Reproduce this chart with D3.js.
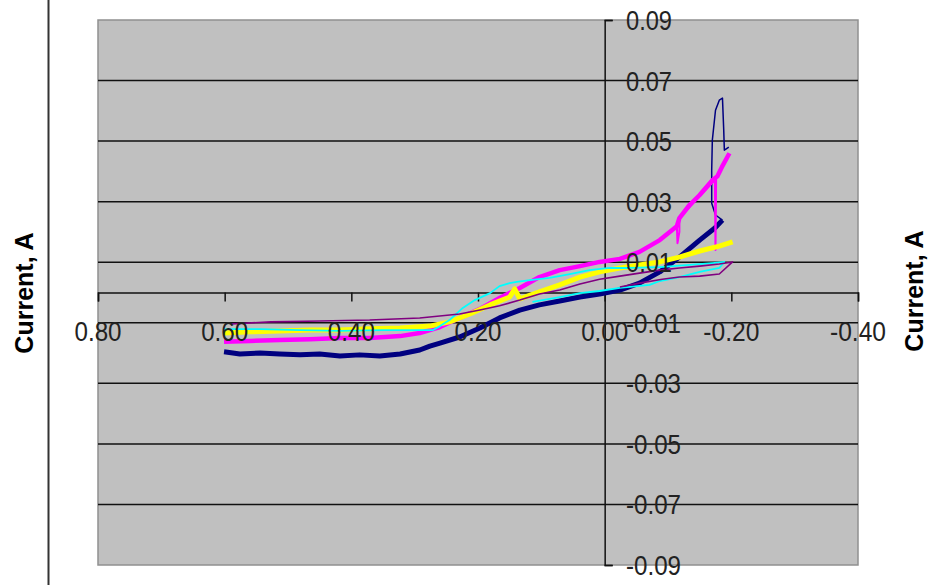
<!DOCTYPE html>
<html>
<head>
<meta charset="utf-8">
<script src="https://cdn.jsdelivr.net/npm/d3@7"></script>
<style>
  body { margin: 0; background: #fff; }
  svg { display: block; }
</style>
</head>
<body>
<div id="chart"></div>
<script>
// potential (V) and current (A) per sweep
const navyV = [0.601, 0.576, 0.544, 0.513, 0.481, 0.450, 0.418, 0.387, 0.355, 0.323, 0.292, 0.276, 0.260, 0.229, 0.197, 0.166, 0.134, 0.103, 0.071, 0.039, 0.008, -0.024, -0.055, -0.087, -0.118, -0.150, -0.174, -0.186];
const navyI = [-0.0196, -0.0203, -0.0200, -0.0203, -0.0206, -0.0203, -0.0210, -0.0206, -0.0210, -0.0203, -0.0190, -0.0177, -0.0167, -0.0147, -0.0117, -0.0084, -0.0058, -0.0041, -0.0028, -0.0015, -0.0005, 0.0008, 0.0031, 0.0068, 0.0117, 0.0173, 0.0213, 0.0239];
const navyLoopV = [-0.186, -0.175, -0.169, -0.169, -0.170, -0.175, -0.181, -0.186, -0.188, -0.189, -0.196];
const navyLoopI = [0.0239, 0.0256, 0.0295, 0.0404, 0.0503, 0.0602, 0.0635, 0.0642, 0.0536, 0.0470, 0.0480];

const magentaV = [0.601, 0.560, 0.513, 0.465, 0.418, 0.371, 0.323, 0.292, 0.260, 0.229, 0.197, 0.166, 0.134, 0.103, 0.071, 0.039, 0.008, -0.024, -0.055, -0.087, -0.114, -0.118, -0.134, -0.150, -0.170, -0.178, -0.185, -0.197];
const magentaI = [-0.0163, -0.0160, -0.0157, -0.0154, -0.0150, -0.0150, -0.0144, -0.0134, -0.0114, -0.0084, -0.0054, -0.0018, 0.0015, 0.0051, 0.0074, 0.0087, 0.0101, 0.0111, 0.0134, 0.0173, 0.0219, 0.0246, 0.0289, 0.0322, 0.0371, 0.0384, 0.0414, 0.0460];
const magentaDropV = [-0.114, -0.115, -0.118, -0.118, -0.174, -0.175, -0.176];
const magentaDropI = [0.0219, 0.0163, 0.0200, 0.0246, 0.0371, 0.0140, 0.0380];

const yellowV = [0.601, 0.560, 0.513, 0.465, 0.418, 0.371, 0.323, 0.276, 0.245, 0.213, 0.181, 0.150, 0.142, 0.134, 0.103, 0.071, 0.039, 0.008, -0.024, -0.055, -0.087, -0.118, -0.150, -0.181, -0.202];
const yellowI = [-0.0134, -0.0130, -0.0127, -0.0124, -0.0124, -0.0120, -0.0117, -0.0111, -0.0097, -0.0071, -0.0041, -0.0015, 0.0012, -0.0021, 0.0002, 0.0025, 0.0051, 0.0068, 0.0081, 0.0091, 0.0101, 0.0117, 0.0137, 0.0153, 0.0167];

const cyanV = [0.601, 0.544, 0.481, 0.418, 0.350, 0.271, 0.260, 0.245, 0.224, 0.205, 0.181, 0.166, 0.150, 0.139, 0.118, 0.087, 0.055, 0.024, -0.008, -0.039, -0.087, -0.134, -0.170, -0.189, -0.181, -0.150, -0.118, -0.087, -0.071, -0.024, 0.008, 0.039, 0.071, 0.114];
const cyanI = [-0.0121, -0.0121, -0.0124, -0.0127, -0.0124, -0.0124, -0.0111, -0.0091, -0.0051, -0.0025, -0.0002, 0.0021, 0.0031, 0.0035, 0.0041, 0.0048, 0.0061, 0.0074, 0.0081, 0.0081, 0.0084, 0.0091, 0.0097, 0.0101, 0.0081, 0.0068, 0.0051, 0.0038, 0.0025, 0.0015, 0.0005, -0.0002, -0.0015, -0.0031];

const purpleV = [0.590, 0.527, 0.450, 0.371, 0.292, 0.229, 0.197, 0.166, 0.134, 0.103, 0.071, 0.039, 0.008, -0.024, -0.055, -0.087, -0.118, -0.150, -0.181, -0.202, -0.181, -0.150, -0.118, -0.091, -0.055, -0.024];
const purpleI = [-0.0104, -0.0097, -0.0094, -0.0091, -0.0084, -0.0071, -0.0058, -0.0044, -0.0025, -0.0005, 0.0008, 0.0028, 0.0044, 0.0054, 0.0064, 0.0074, 0.0081, 0.0087, 0.0094, 0.0101, 0.0061, 0.0054, 0.0051, 0.0044, 0.0031, 0.0018];

const xTicks = [0.8, 0.6, 0.4, 0.2, 0.0, -0.2, -0.4];
const xTickLabels = ["0.80", "0.60", "0.40", "0.20", "0.00", "-0.20", "-0.40"];
const yTicks = [0.09, 0.07, 0.05, 0.03, 0.01, -0.01, -0.03, -0.05, -0.07, -0.09];
const yTickLabels = ["0.09", "0.07", "0.05", "0.03", "0.01", "-0.01", "-0.03", "-0.05", "-0.07", "-0.09"];
const axisTitle = "Current, A";

const series = [
  { v: navyV, i: navyI, color: "#000080", w: 5 },
  { v: navyLoopV, i: navyLoopI, color: "#000080", w: 1.5 },
  { v: magentaDropV, i: magentaDropI, color: "#FF00FF", w: 2 },
  { v: magentaV, i: magentaI, color: "#FF00FF", w: 4.5 },
  { v: yellowV, i: yellowI, color: "#FFFF00", w: 5 },
  { v: cyanV, i: cyanI, color: "#00FFFF", w: 1.8 },
  { v: purpleV, i: purpleI, color: "#800080", w: 1.6 }
];

const width = 932, height = 585;
const plot = { left: 98, right: 858, top: 20, bottom: 565 };

const svg = d3.select("#chart").append("svg")
  .attr("width", width).attr("height", height);

const x = d3.scaleLinear().domain([0.8, -0.4]).range([plot.left, plot.right]);
const y = d3.scaleLinear().domain([-0.09, 0.09]).range([plot.bottom, plot.top]);

// outer frame line on the left
svg.append("line")
  .attr("x1", 48.5).attr("x2", 48.5).attr("y1", 0).attr("y2", height)
  .attr("stroke", "#333").attr("stroke-width", 2);

svg.append("rect")
  .attr("x", plot.left).attr("y", plot.top)
  .attr("width", plot.right - plot.left).attr("height", plot.bottom - plot.top)
  .attr("fill", "#C0C0C0").attr("stroke", "#909090").attr("stroke-width", 1.5);

// gridlines at the inner ticks
svg.append("g").selectAll("line")
  .data(yTicks.slice(1, -1))
  .enter().append("line")
  .attr("x1", plot.left).attr("x2", plot.right)
  .attr("y1", d => y(d)).attr("y2", d => y(d))
  .attr("stroke", "#111").attr("stroke-width", 1.5);

// x axis crossing at zero current
const xAxis = d3.axisBottom(x).tickValues(xTicks).tickSize(9).tickFormat("");
svg.append("g").attr("transform", `translate(0,${y(0)})`).call(xAxis)
  .call(g => g.select(".domain").attr("stroke", "#111").attr("stroke-width", 1.5))
  .call(g => g.selectAll(".tick line").attr("stroke", "#111").attr("stroke-width", 1.5));

// y axis crossing at zero potential
const yAxis = d3.axisRight(y).tickValues([0.09, -0.09]).tickSize(8).tickFormat("");
svg.append("g").attr("transform", `translate(${x(0)},0)`).call(yAxis)
  .call(g => g.select(".domain").attr("stroke", "#111").attr("stroke-width", 1.5))
  .call(g => g.selectAll(".tick line").attr("stroke", "#111").attr("stroke-width", 1.5));

const line = d3.line().x(d => x(d[0])).y(d => y(d[1]));

svg.append("g").selectAll("path")
  .data(series)
  .enter().append("path")
  .attr("d", s => line(s.v.map((v, k) => [v, s.i[k]])))
  .attr("fill", "none")
  .attr("stroke", s => s.color)
  .attr("stroke-width", s => s.w)
  .attr("stroke-linejoin", "round");

const tickFont = "'Liberation Sans', Arial, sans-serif";

svg.append("g").selectAll("text")
  .data(xTicks)
  .enter().append("text")
  .attr("x", d => x(d)).attr("y", 341)
  .attr("text-anchor", "middle")
  .attr("font-family", tickFont).attr("font-size", 27)
  .attr("fill", "#222")
  .attr("textLength", (d, k) => xTickLabels[k].startsWith("-") ? 56 : 47)
  .attr("lengthAdjust", "spacingAndGlyphs")
  .text((d, k) => xTickLabels[k]);

svg.append("g").selectAll("text")
  .data(yTicks)
  .enter().append("text")
  .attr("x", 626).attr("y", d => y(d) + 10)
  .attr("font-family", tickFont).attr("font-size", 27)
  .attr("fill", "#222")
  .attr("textLength", (d, k) => yTickLabels[k].startsWith("-") ? 55 : 46)
  .attr("lengthAdjust", "spacingAndGlyphs")
  .text((d, k) => yTickLabels[k]);

[[33, 293], [923, 291]].forEach(([tx, ty]) => {
  svg.append("text")
    .attr("transform", `translate(${tx},${ty}) rotate(-90)`)
    .attr("text-anchor", "middle")
    .attr("font-family", "'Liberation Sans', Arial, sans-serif")
    .attr("font-weight", "bold").attr("font-size", 25)
    .attr("fill", "#000")
    .text(axisTitle);
});
</script>
</body>
</html>
